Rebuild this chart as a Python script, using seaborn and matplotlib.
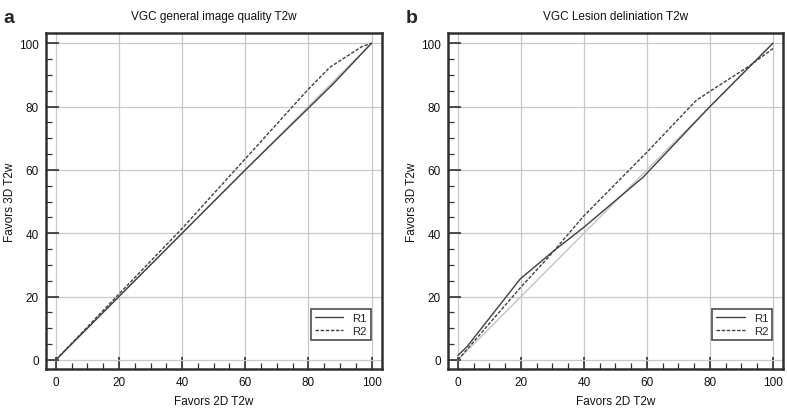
import numpy as np
import pandas as pd
import seaborn as sns
import matplotlib.pyplot as plt
from matplotlib.ticker import MultipleLocator

sns.set_style("white")
plt.rcParams['font.family'] = ['Liberation Sans', 'DejaVu Sans']

# panel a: VGC general image quality
a_r1_x = [0, 20, 40, 60, 87.7, 100]
a_r1_y = [0, 20, 40, 60, 87.0, 100]
a_r2_x = [0, 20, 40, 60, 80, 86.8, 96.7, 100]
a_r2_y = [0, 20.8, 41.5, 63.5, 85.5, 92.4, 98.8, 100]

# panel b: VGC lesion delineation
b_r1_x = [0, 2.9, 19.8, 30.5, 40, 58.8, 80, 100]
b_r1_y = [1.4, 4.2, 25.6, 34.5, 41.9, 57.7, 80, 100]
b_r2_x = [0, 20, 28.8, 40, 60, 75.6, 80.3, 92.5, 100]
b_r2_y = [0, 23, 32.5, 45.5, 65.6, 81.9, 85, 92.8, 98.3]

titles = ["VGC general image quality T2w", "VGC Lesion deliniation T2w"]
letters = ["a", "b"]


def make_df(r1x, r1y, r2x, r2y):
    return pd.DataFrame({
        "x": r1x + r2x,
        "y": r1y + r2y,
        "reader": ["R1"] * len(r1x) + ["R2"] * len(r2x),
    })


frames = [make_df(a_r1_x, a_r1_y, a_r2_x, a_r2_y),
          make_df(b_r1_x, b_r1_y, b_r2_x, b_r2_y)]

fig = plt.figure(figsize=(7.87, 4.10), dpi=100)
positions = [[0.058, 0.098, 0.427, 0.819], [0.569, 0.098, 0.426, 0.819]]
letter_x = [0.004, 0.515]

for i, df in enumerate(frames):
    ax = fig.add_axes(positions[i])
    ax.grid(True, color="#c8c8c8", lw=0.9)
    ax.set_axisbelow(True)
    ax.plot([0, 100], [0, 100], color="#c4c4c4", lw=1.0, zorder=1)
    sns.lineplot(data=df, x="x", y="y", style="reader", sort=False,
                 dashes={"R1": "", "R2": (2.5, 1.2)}, color="#404040",
                 lw=1.0, ax=ax, estimator=None)
    ax.set_xlim(-3.2, 103.2)
    ax.set_ylim(-2.8, 103.2)
    ax.xaxis.set_major_locator(MultipleLocator(20))
    ax.yaxis.set_major_locator(MultipleLocator(20))
    ax.xaxis.set_minor_locator(MultipleLocator(5))
    ax.yaxis.set_minor_locator(MultipleLocator(5))
    ax.tick_params(which="both", bottom=True, left=True, top=False, right=False)
    ax.tick_params(which="major", direction="in", length=9, width=1.2,
                   color="#303030", labelsize=8.5, pad=5, labelcolor="#111111")
    ax.tick_params(which="minor", direction="in", length=4, width=0.9,
                   color="#303030")
    for s in ax.spines.values():
        s.set_linewidth(1.8)
        s.set_color("#303030")
    ax.set_title(titles[i], fontsize=8.5, pad=10, color="#111111")
    ax.set_xlabel("Favors 2D T2w", fontsize=8.5, labelpad=5, color="#111111")
    ax.set_ylabel("Favors 3D T2w", fontsize=8.5, labelpad=2, color="#111111")
    leg = ax.legend(loc="lower right", fontsize=8.2, frameon=True, fancybox=False,
                    handlelength=2.5, borderpad=0.35, labelspacing=0.25,
                    bbox_to_anchor=(0.985, 0.07))
    leg.get_frame().set_edgecolor("#202020")
    leg.get_frame().set_linewidth(1.2)
    fig.text(letter_x[i], 0.975, letters[i], fontsize=14, fontweight="bold",
             va="top")

fig.savefig("out.png", dpi=100)
